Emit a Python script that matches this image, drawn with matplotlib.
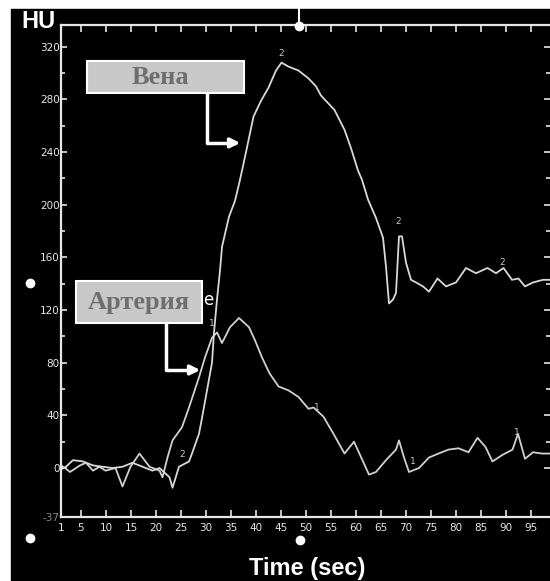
import numpy as np
import matplotlib
matplotlib.use("Agg")
import matplotlib.pyplot as plt
from matplotlib.patches import Rectangle
from matplotlib.ticker import FixedLocator

# time-density curves (sec, HU)
artery_t = [1, 1.8, 2.8, 4.8, 6, 7.4, 8.7, 9.9, 11.9, 13.3, 14.9, 16.7, 18.7, 20.7, 21.3,
            22.3, 23.3, 25.2, 26.6, 28.6, 29.8, 31.2, 32.2, 33.2, 34.8, 36.6, 38.6, 39.8,
            41.2, 42.7, 44.5, 46.5, 48.5, 50.5, 51.5, 53.5, 55.5, 57.7, 59.6, 62.6, 64,
            66, 68, 68.6, 69.6, 70.6, 72.6, 74.6, 76.5, 78.5, 80.5, 82.5, 84.3, 85.9,
            87.3, 89.3, 91.3, 92.4, 93.8, 95.4, 97.2, 98.8]
artery_hu = [2, 0, -3, 2, 4, -2, 1, -2, 0, -14, 1, 11, 1, -2, -7,
             8, 21, 31, 46, 69, 84, 99, 103, 95, 107, 114, 107, 97,
             84, 72, 62, 59, 54, 45, 46, 39, 26, 11, 20, -5, -3,
             6, 14, 21, 8, -3, 0, 8, 11, 14, 15, 12, 23, 16,
             5, 10, 14, 26, 7, 12, 11, 11]

vein_t = [1, 2, 3.4, 5.4, 7.4, 9.3, 11.3, 13.3, 15.3, 17.3, 19.3, 20.7, 22.7, 23.3,
          24.6, 26.6, 27.2, 28.6, 29.2, 30.2, 31.2, 31.6, 32.2, 32.8, 33.2, 34.6, 35.8,
          36.8, 38, 39.5, 41, 42.5, 44, 45.1, 46.5, 48.5, 50.5, 52, 53, 55.7, 57.7, 59,
          60.4, 61.2, 62.4, 64, 65.4, 66, 66.6, 67.4, 68, 68.6, 69.2, 70, 71, 72, 73.4,
          74.6, 76.3, 78, 80, 82, 84, 86.3, 88, 89.5, 91.2, 92.5, 93.8, 95.4, 97.4, 98.8]
vein_hu = [-1, 1, 6, 5, 2, 1, 0, 1, 4, 1, -2, 0, -7, -15,
           1, 5, 11, 26, 38, 59, 80, 103, 128, 150, 168, 191, 203,
           219, 240, 267, 279, 289, 302, 308, 305, 302, 296, 290, 283, 272, 257, 243,
           226, 219, 204, 190, 175, 153, 125, 128, 133, 176, 176, 156, 143, 141, 138,
           134, 144, 138, 141, 152, 148, 152, 148, 152, 143, 144, 138, 141, 143, 143]

x_ticks = [1, 5, 10, 15, 20, 25, 30, 35, 40, 45, 50, 55, 60, 65, 70, 75, 80, 85, 90, 95]
y_ticks = [320, 280, 240, 200, 160, 120, 80, 40, 0, -37]
y_labels = ['320', '280', '240', '200', '160', '120', '80', '40', '0', '-37']

W, H = 550, 581
fig = plt.figure(figsize=(5.5, 5.81), dpi=100)
fig.patch.set_facecolor('white')
fig.add_artist(Rectangle((11 / W, 0), 1, 1 - 9 / H, transform=fig.transFigure,
                         color='black', zorder=-1))

ax = fig.add_axes([61 / W, (H - 517) / H, (W - 61) / W, (517 - 25) / H])
ax.set_facecolor('black')
ax.set_xlim(1.6, 98.8)
ax.set_ylim(-37.2, 336.6)

fg = '#e6e6e6'
for s in ['left', 'bottom', 'top']:
    ax.spines[s].set_color(fg)
    ax.spines[s].set_linewidth(1.6)
ax.spines['right'].set_visible(False)

ax.set_xticks(x_ticks)
ax.set_xticklabels([str(v) for v in x_ticks])
ax.set_yticks(y_ticks)
ax.set_yticklabels(y_labels)
ax.yaxis.set_minor_locator(FixedLocator([300, 260, 220, 180, 140, 100, 60, 20]))
ax.tick_params(axis='x', which='major', top=True, bottom=True, direction='in',
               length=5, width=1.2, color=fg, labelcolor=fg, labelsize=7.5, pad=4)
ax.tick_params(axis='y', which='major', left=True, right=True, direction='in',
               length=4, width=1.2, color=fg, labelcolor=fg, labelsize=7.5, pad=1)
ax.tick_params(axis='y', which='minor', left=True, right=True, direction='in',
               length=3, width=1.2, color=fg)
ax.get_yticklabels()[-1].set_color('#8a8a8a')

ax.plot(artery_t, artery_hu, color='#d0d0d0', lw=1.3, clip_on=False)
ax.plot(vein_t, vein_hu, color='#d8d8d8', lw=1.3, clip_on=False)

# small curve markers
for t, v, s in [(45.1, 315, '2'), (68.4, 187, '2'), (89.3, 156, '2'), (25.2, 10, '2'),
                (31.2, 110, '1'), (52.1, 46, '1'), (71.4, 5, '1'), (92.2, 27, '1')]:
    ax.text(t, v, s, color='#c8c8c8', fontsize=6.5, ha='center', va='center')

# labels in grey boxes with white arrows
ax.add_patch(Rectangle((6.2, 285), 31.4, 24.6, facecolor='#c8c8c8', edgecolor='white',
                       lw=1.5, zorder=5))
ax.text(20.9, 296.5, 'Вена', family='Liberation Serif', weight='bold', fontsize=19,
        color='#6e6e6e', ha='center', va='center', zorder=6)
ax.plot([30.2, 30.2, 35.5], [285, 247, 247], color='white', lw=2.5, zorder=5)
ax.annotate('', xy=(37.4, 247), xytext=(34.5, 247),
            arrowprops=dict(arrowstyle='-|>', color='white', lw=2.5, mutation_scale=14))

ax.add_patch(Rectangle((4.0, 110), 25.2, 32, facecolor='#c8c8c8', edgecolor='white',
                       lw=1.5, zorder=5, clip_on=False))
ax.text(16.6, 125.5, 'Артерия', family='Liberation Serif', weight='bold', fontsize=19,
        color='#6e6e6e', ha='center', va='center', zorder=6)
ax.plot([21.9, 21.9, 27.5], [110, 74.5, 74.5], color='white', lw=2.5, zorder=5)
ax.annotate('', xy=(29.4, 74.5), xytext=(26.5, 74.5),
            arrowprops=dict(arrowstyle='-|>', color='white', lw=2.5, mutation_scale=14))
ax.text(30.4, 128, 'e', color='white', fontsize=12, ha='center', va='center')

# figure-level decorations
fig.text(21 / W, 1 - 21 / H, 'HU', color='white', fontsize=17, weight='bold',
         family='Liberation Sans', ha='left', va='center')
fig.text(307 / W, 1 - 568 / H, 'Time (sec)', color='white', fontsize=17, weight='bold',
         family='Liberation Sans', ha='center', va='center')
for x, y in [(30, 283), (30, 538), (300, 540), (299, 26)]:
    fig.add_artist(plt.Line2D([x / W], [1 - y / H], marker='o', markersize=6,
                              color='white', transform=fig.transFigure))
fig.add_artist(plt.Line2D([299 / W, 299 / W], [1 - 9 / H, 1 - 26 / H], color='white',
                          lw=1.5, transform=fig.transFigure))

fig.savefig('out.png', dpi=100, facecolor=fig.get_facecolor())
